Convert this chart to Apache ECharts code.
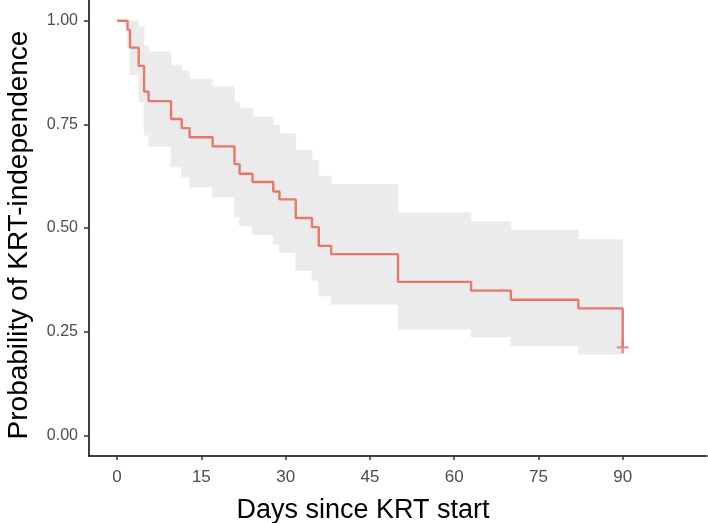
<!DOCTYPE html>
<html>
<head>
<meta charset="utf-8">
<script src="https://cdn.jsdelivr.net/npm/echarts@6/dist/echarts.min.js"></script>
<style>
html,body{margin:0;padding:0;background:#fff;}
#chart{width:708px;height:523px;}
</style>
</head>
<body>
<div id="chart"></div>
<script>
// Kaplan-Meier estimate (step changes at each time)
const times = [0, 1.85, 2.3, 3.85, 4.8, 5.6, 9.6, 11.5, 12.9, 17.0, 20.9, 21.8, 24.1, 27.8, 28.9, 31.8, 34.7, 35.9, 38.1, 50.0, 63.0, 70.1, 82.1, 90];
const surv  = [1.0, 0.978, 0.935, 0.891, 0.829, 0.806, 0.763, 0.741, 0.719, 0.697, 0.654, 0.631, 0.611, 0.588, 0.569, 0.524, 0.502, 0.457, 0.437, 0.370, 0.349, 0.327, 0.306, 0.212];
const lower = [1.0, 0.936, 0.869, 0.804, 0.724, 0.697, 0.647, 0.623, 0.599, 0.575, 0.527, 0.505, 0.484, 0.461, 0.441, 0.398, 0.374, 0.336, 0.316, 0.256, 0.237, 0.2155, 0.1955, 0.212];
const upper = [1.0, 1.0, 1.0, 0.986, 0.94, 0.925, 0.893, 0.879, 0.859, 0.842, 0.804, 0.789, 0.768, 0.748, 0.728, 0.688, 0.664, 0.625, 0.605, 0.5375, 0.515, 0.495, 0.472, 0.212];
const censorTimes = [90];
const censorSurv = [0.212];
const xTicks = [0, 15, 30, 45, 60, 75, 90];
const yTicks = [0, 0.25, 0.5, 0.75, 1.0];

const lineData = times.map((t, i) => [t, surv[i]]);
const bandData = [];
for (let i = 0; i < times.length - 1; i++) {
  bandData.push([times[i], times[i + 1], lower[i], upper[i]]);
}
const censorData = censorTimes.map((t, i) => [t, censorSurv[i]]);

const FONT = 'Liberation Sans, Arial, sans-serif';
const chart = echarts.init(document.getElementById('chart'));
chart.setOption({
  animation: false,
  grid: {left: 89, right: 1, top: 0, bottom: 67, containLabel: false, outerBoundsMode: 'none'},
  xAxis: {
    type: 'value', min: -5, max: 105,
    name: 'Days since KRT start', nameLocation: 'middle', nameGap: 41,
    nameTextStyle: {fontFamily: FONT, fontSize: 27, color: '#000', padding: [0, 70, 0, 0]},
    splitLine: {show: false},
    axisLine: {show: true, onZero: false, lineStyle: {color: '#000', width: 1.5}},
    axisTick: {show: true, length: 4, customValues: xTicks, lineStyle: {color: '#333', width: 1.5}},
    axisLabel: {customValues: xTicks, margin: 13, fontFamily: FONT, fontSize: 17, color: '#4d4d4d'}
  },
  yAxis: {
    type: 'value', min: -0.05, max: 1.05,
    name: 'Probability of KRT-independence', nameLocation: 'middle', nameGap: 56,
    nameTextStyle: {fontFamily: FONT, fontSize: 28, color: '#000', padding: [0, 14, 0, 0]},
    splitLine: {show: false},
    axisLine: {show: true, onZero: false, lineStyle: {color: '#000', width: 1.5}},
    axisTick: {show: true, length: 5, customValues: yTicks, lineStyle: {color: '#333', width: 1.5}},
    axisLabel: {customValues: yTicks, margin: 11, fontFamily: FONT, fontSize: 16, color: '#4d4d4d',
      formatter: v => v.toFixed(2)}
  },
  series: [
    {
      type: 'custom',
      data: bandData,
      encode: {x: [0, 1], y: [2, 3]},
      clip: true,
      silent: true,
      z: 1,
      renderItem: function (params, api) {
        const p0 = api.coord([api.value(0), api.value(3)]);
        const p1 = api.coord([api.value(1), api.value(2)]);
        return {
          type: 'rect',
          shape: {x: p0[0], y: p0[1], width: p1[0] - p0[0], height: p1[1] - p0[1]},
          style: {fill: '#ebebeb', stroke: '#ebebeb', lineWidth: 0.6}
        };
      }
    },
    {
      type: 'line',
      data: lineData,
      step: 'end',
      showSymbol: false,
      symbol: 'none',
      z: 3,
      lineStyle: {color: '#e8776d', width: 2.4}
    },
    {
      type: 'scatter',
      data: censorData,
      symbol: 'path://M4,0H6V4H10V6H6V10H4V6H0V4H4Z',
      symbolSize: 12,
      z: 4,
      itemStyle: {color: '#e8776d'}
    }
  ]
});
</script>
</body>
</html>
